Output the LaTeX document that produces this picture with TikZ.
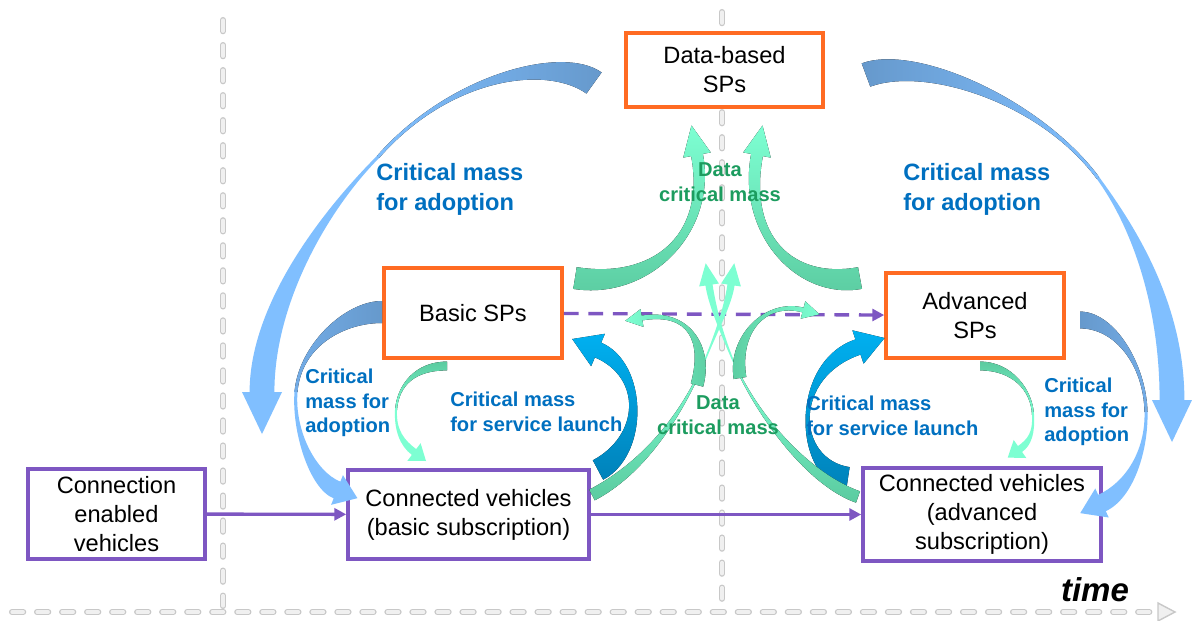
\documentclass[tikz,border=0pt]{standalone}
\usepackage{fontspec}
\setmainfont{Liberation Sans}
\usetikzlibrary{calc}
\usetikzlibrary{arrows.meta}

\definecolor{spor}{HTML}{FF6B22}
\definecolor{cvpu}{HTML}{7E57C2}
\definecolor{cmtext}{HTML}{0070C0}
\definecolor{dtext}{HTML}{1C9C5F}
\definecolor{cmdark}{HTML}{6699CC}
\definecolor{cmmid}{HTML}{73ACE6}
\definecolor{cmlight}{HTML}{80BFFF}
\definecolor{lnlight}{HTML}{00B0F0}
\definecolor{lndark}{HTML}{0082BA}
\definecolor{grdark}{HTML}{5BCBA0}
\definecolor{grlight}{HTML}{7DFFD2}
\definecolor{axgray}{HTML}{C8C8C8}
\definecolor{axfill}{HTML}{F0F0F0}

% tapered band: style, 4 bezier points, half width at start and end
\newcommand\tband[7]{\fill[#1] ($(#2)!#6!90:(#3)$) .. controls ($(#3)!#6!-90:(#2)$) and ($(#4)!#7!90:(#5)$) .. ($(#5)!#7!-90:(#4)$) -- ($(#5)!#7!90:(#4)$) .. controls ($(#4)!#7!-90:(#5)$) and ($(#3)!#6!90:(#2)$) .. ($(#2)!#6!-90:(#3)$) -- cycle;}
% same, with a head: half width and length of the head
\newcommand\tarrow[9]{\fill[#1] ($(#2)!#6!90:(#3)$) .. controls ($(#3)!#6!-90:(#2)$) and ($(#4)!#7!90:(#5)$) .. ($(#5)!#7!-90:(#4)$) -- ($(#5)!#8!-90:(#4)$) -- ($(#5)!-#9!(#4)$) -- ($(#5)!#8!90:(#4)$) -- ($(#5)!#7!90:(#4)$) .. controls ($(#4)!#7!-90:(#5)$) and ($(#3)!#6!90:(#2)$) .. ($(#2)!#6!-90:(#3)$) -- cycle;}

\tikzset{
  spbox/.style={draw=spor, line width=2.5pt, fill=white, align=center, inner sep=0pt,
    font=\fontsize{16.8}{20.6}\selectfont},
  cvbox/.style={spbox, draw=cvpu},
  flow/.style={cvpu, line width=2.4pt, -{Triangle[length=8.5pt,width=8.5pt]}},
  bigcm/.style={text=cmtext, font=\bfseries\fontsize{16.8}{21.3}\selectfont, align=left,
    inner sep=0pt, anchor=west},
  smallcm/.style={bigcm, font=\bfseries\fontsize{14.3}{17.4}\selectfont},
  datacm/.style={smallcm, text=dtext, align=center, anchor=center},
  tline/.style={axgray, line width=4.3pt, line cap=round, dash pattern=on 8pt off 9.8pt},
  tlinein/.style={axfill, line width=2.3pt, line cap=round, dash pattern=on 8pt off 9.8pt}
}

\begin{document}
\begin{tikzpicture}[x=0.25mm, y=-0.25mm]
\fill [white] (0,0) rectangle (1192,621);
\useasboundingbox (0,0) rectangle (1192,621);

\draw [tline] (223,20) -- (223,606) (722,12) -- (722,606) (12,612) -- (1150,612);
\draw [tlinein] (223,20) -- (223,606) (722,12) -- (722,606) (12,612) -- (1150,612);
\filldraw [fill=axfill, draw=axgray, line width=1pt] (1158,603) -- (1175,612) -- (1158,621) -- cycle;

\node [spbox, minimum width=49.25mm, minimum height=18.5mm] (dsp) at (724.5,70) {Data-based\\SPs};
\node [spbox, minimum width=44.5mm, minimum height=22.5mm] (bsp) at (473,313) {Basic SPs};
\node [spbox, minimum width=44.5mm, minimum height=21.25mm] (asp) at (975,315.5) {Advanced\\SPs};
\node [cvbox, minimum width=44.25mm, minimum height=22.5mm] (cev) at (116.5,514) {Connection\\enabled\\vehicles};
\node [cvbox, minimum width=60.25mm, minimum height=22.25mm] (cvb) at (468.5,514.5) {Connected vehicles\\(basic subscription)};
\node [cvbox, minimum width=59.5mm, minimum height=23.25mm] (cva) at (982,514.5) {Connected vehicles\\(advanced\\subscription)};

\draw [flow] (cev) -- (cvb);
\draw [flow] (cvb) -- (cva);
\draw [flow, dash pattern=on 10.5pt off 7pt] (bsp) -- (asp);

\tband{left color=cmlight,right color=cmdark}{594,83}{555,55}{450,75}{378,157}{3.25mm}{0.375mm}
\tarrow{fill=cmlight}{378,157}{330,205}{262,300}{262,392}{0.375mm}{3.1mm}{5mm}{10.5mm}
\tband{left color=cmdark,right color=cmlight}{866,75}{920,55}{1040,100}{1098,178}{3.1mm}{0.375mm}
\tarrow{fill=cmlight}{1098,178}{1130,222}{1172,300}{1172,400}{0.375mm}{3.1mm}{5mm}{10.5mm}

\tband{left color=cmmid,right color=cmdark}{382,312}{345,312}{300,345}{296,392}{2.75mm}{0.375mm}
\tarrow{fill=cmlight}{296,392}{293,430}{312,480}{337,490}{0.375mm}{2.25mm}{4mm}{5.5mm}
\tband{left color=cmdark,right color=cmmid}{1080,320}{1115,320}{1145,365}{1146,412}{2.1mm}{0.375mm}
\tarrow{fill=cmlight}{1146,412}{1147,450}{1130,490}{1102,503}{0.375mm}{2.25mm}{4mm}{6mm}

\tarrow{top color=lnlight,bottom color=lndark}{598,470}{645,445}{645,370}{598,350}{2.75mm}{2mm}{4.4mm}{7mm}
\tarrow{top color=lnlight,bottom color=lndark}{848,478}{795,470}{790,370}{858,347}{2.75mm}{2mm}{4.4mm}{7mm}

\tband{top color=grdark,bottom color=grlight}{447,366}{415,366}{398,385}{396,410}{1.1mm}{0.25mm}
\tarrow{fill=grlight}{396,410}{395,430}{402,443}{414,452}{0.25mm}{0.9mm}{2.75mm}{3.75mm}
\tband{top color=grdark,bottom color=grlight}{980,366}{1012,366}{1032,390}{1033,415}{1.1mm}{0.25mm}
\tarrow{fill=grlight}{1033,415}{1034,432}{1030,442}{1020,449}{0.25mm}{0.9mm}{2.75mm}{3.75mm}

\tarrow{top color=grlight,bottom color=grdark}{575,278}{650,290}{712,235}{697,155}{2.75mm}{1.5mm}{3.5mm}{7.5mm}
\tarrow{top color=grlight,bottom color=grdark}{860,278}{795,290}{742,235}{757,155}{2.75mm}{1.5mm}{3.5mm}{7.5mm}
\tband{top color=grlight,bottom color=grdark}{592,495}{640,470}{680,420}{705,360}{1.5mm}{0.2mm}
\tarrow{fill=grlight}{705,360}{718,328}{728,305}{731,285}{0.2mm}{0.9mm}{2.5mm}{5.5mm}
\tband{top color=grlight,bottom color=grdark}{858,497}{810,480}{760,420}{735,365}{1.5mm}{0.2mm}
\tarrow{fill=grlight}{735,365}{722,335}{712,305}{709,285}{0.2mm}{0.9mm}{2.5mm}{5.5mm}
\tarrow{left color=grlight,right color=grdark}{697,385}{708,345}{690,310}{642,318}{1.6mm}{0.6mm}{2.25mm}{4.25mm}
\tarrow{left color=grdark,right color=grlight}{740,378}{733,335}{765,300}{803,310}{1.6mm}{0.6mm}{2.25mm}{4.25mm}

\node [bigcm] (cmleft) at (376,189) {Critical mass\\for adoption};
\node [bigcm] (cmright) at (903,189) {Critical mass\\for adoption};
\node [smallcm] (adleft) at (305,403) {Critical\\mass for\\adoption};
\node [smallcm] (adright) at (1044,412) {Critical\\mass for\\adoption};
\node [smallcm] (lnleft) at (450,412) {Critical mass\\for service launch};
\node [smallcm] (lnright) at (806,416) {Critical mass\\for service launch};
\node [datacm] (dtop) at (720,182) {Data\\critical mass};
\node [datacm] (dbot) at (718,415) {Data\\critical mass};
\node [font=\bfseries\itshape\fontsize{23.5}{28}\selectfont] (time) at (1095,590) {time};
\end{tikzpicture}
\end{document}
